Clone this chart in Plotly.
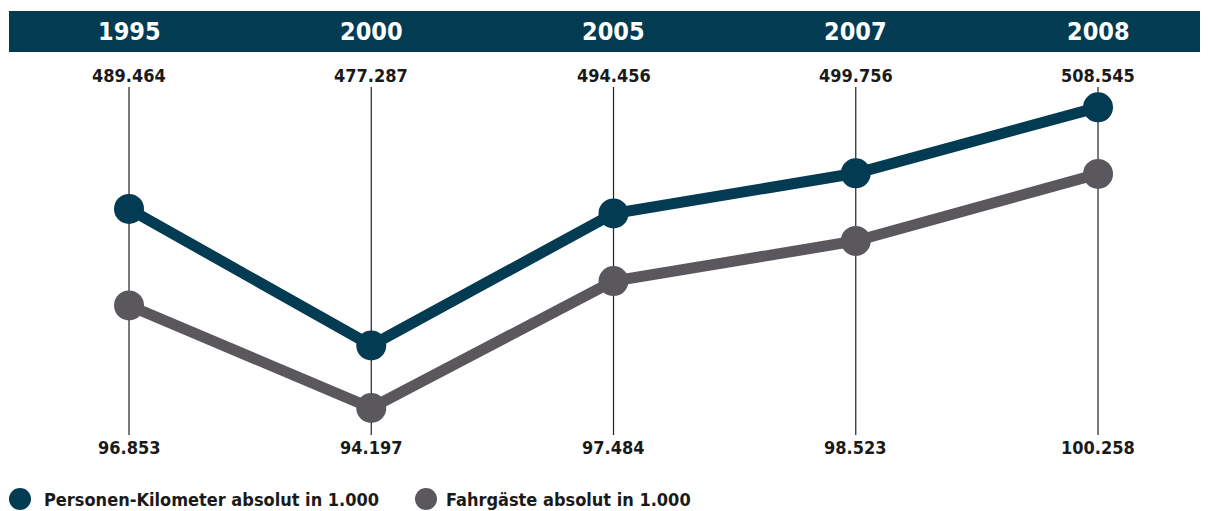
import plotly.graph_objects as go

years = ["1995", "2000", "2005", "2007", "2008"]
# Personen-Kilometer (labels) and heights
pkm_labels = ["489.464", "477.287", "494.456", "499.756", "508.545"]
pkm_values = [495.1, 477.1, 494.5, 499.8, 508.5]
# Fahrgaeste
fg_labels = ["96.853", "94.197", "97.484", "98.523", "100.258"]
fg_values = [96.853, 94.197, 97.484, 98.523, 100.258]

TEAL = "#023b52"
GREY = "#5a585d"
FONT = "DejaVu Sans Condensed, Liberation Sans Narrow, Roboto, sans-serif"

# page body has an 8px margin, so the figure is a bit smaller than the window
OFF = 8
W, H = 1200, 503
x = list(range(len(years)))


def py(p):
    # reference pixel row -> paper y
    return 1 - (p - OFF) / H


def px(p):
    # reference pixel column -> paper x
    return (p - OFF) / W


fig = go.Figure()

fig.add_trace(go.Scatter(
    x=x, y=pkm_values, mode="lines+markers", name="Personen-Kilometer",
    line=dict(color=TEAL, width=11), marker=dict(color=TEAL, size=30),
    yaxis="y", showlegend=False, hoverinfo="skip"))
fig.add_trace(go.Scatter(
    x=x, y=fg_values, mode="lines+markers", name="Fahrgäste",
    line=dict(color=GREY, width=11), marker=dict(color=GREY, size=30),
    yaxis="y2", showlegend=False, hoverinfo="skip"))

shapes = [
    # header band
    dict(type="rect", xref="paper", yref="paper", x0=px(9), x1=1,
         y0=py(52), y1=py(11), fillcolor=TEAL, line_width=0, layer="below"),
]
for i in x:
    shapes.append(dict(type="line", xref="x", yref="paper", x0=i, x1=i,
                       y0=py(435), y1=py(87), line=dict(color="#222222", width=1.2),
                       layer="below"))
# legend dots
for cx, col in [(20, TEAL), (426, GREY)]:
    shapes.append(dict(type="circle", xref="paper", yref="paper",
                       x0=px(cx - 11), x1=px(cx + 11), y0=py(510), y1=py(488),
                       fillcolor=col, line_width=0))

annotations = []
for i, yr in enumerate(years):
    annotations.append(dict(x=i, y=py(31), xref="x", yref="paper", yanchor="middle",
                            text=f"<b>{yr}</b>", showarrow=False,
                            font=dict(color="white", size=25, family=FONT)))
    annotations.append(dict(x=i, y=py(75), xref="x", yref="paper", yanchor="middle",
                            text=f"<b>{pkm_labels[i]}</b>", showarrow=False,
                            font=dict(color="#1a1a1a", size=18, family=FONT)))
    annotations.append(dict(x=i, y=py(447), xref="x", yref="paper", yanchor="middle",
                            text=f"<b>{fg_labels[i]}</b>", showarrow=False,
                            font=dict(color="#1a1a1a", size=18, family=FONT)))
annotations.append(dict(x=px(42), y=py(499), xref="paper", yref="paper",
                        xanchor="left", yanchor="middle",
                        text="<b>Personen-Kilometer absolut in 1.000</b>", showarrow=False,
                        font=dict(color="#1a1a1a", size=18, family=FONT)))
annotations.append(dict(x=px(444), y=py(499), xref="paper", yref="paper",
                        xanchor="left", yanchor="middle",
                        text="<b>Fahrgäste absolut in 1.000</b>", showarrow=False,
                        font=dict(color="#1a1a1a", size=18, family=FONT)))

fig.update_layout(
    width=W, height=H,
    margin=dict(l=0, r=0, t=0, b=0),
    paper_bgcolor="white", plot_bgcolor="white",
    xaxis=dict(range=[-0.4995, 4.454], visible=False, fixedrange=True),
    yaxis=dict(range=[455.26, 521.60], visible=False),
    yaxis2=dict(range=[91.529, 104.557], visible=False, overlaying="y"),
    shapes=shapes,
    annotations=annotations,
    showlegend=False,
)

fig.write_html("out.html")
